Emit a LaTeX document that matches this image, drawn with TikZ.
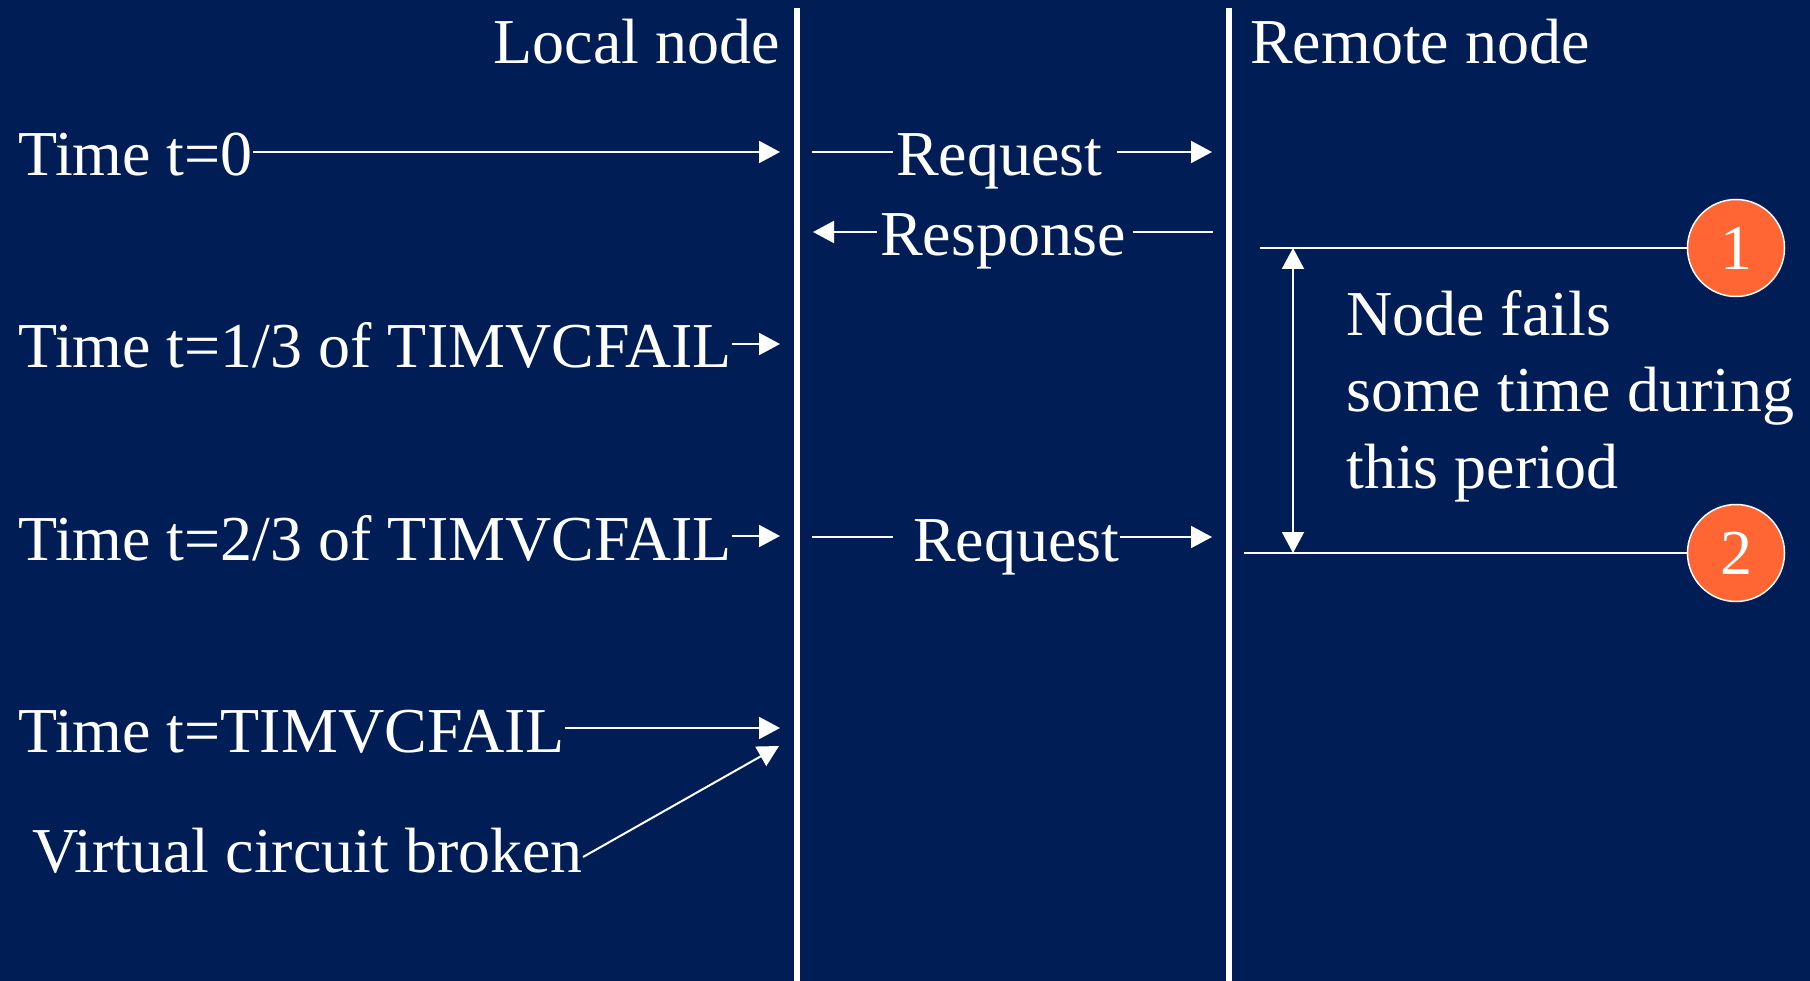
\documentclass[tikz,border=0pt]{standalone}
\usepackage{fontspec}
\setmainfont{Liberation Serif}
\usetikzlibrary{arrows.meta}
\definecolor{navy}{RGB}{1,29,86}
\definecolor{alertorange}{RGB}{255,102,51}
\begin{document}
\begin{tikzpicture}[x=1pt,y=-1pt,
  bigfont/.style={font=\fontsize{64}{76}\selectfont},
  txt/.style={bigfont, inner sep=0pt, text=white, text height=48pt, text depth=0pt},
  wire/.style={draw=white, line width=2pt},
  tip/.tip={Triangle[length=21pt,width=22pt]},
  arr/.style={wire, -tip},
  lane/.style={draw=white, line width=5.5pt},
  marker/.style={circle, fill=alertorange, draw=white, line width=1.5pt,
    minimum size=97pt, inner sep=0pt, text=white, bigfont}]

% background and page frame
\fill[navy] (0,0) rectangle (1810,981);
\useasboundingbox (0,0) rectangle (1810,981);

% the two node lanes
\coordinate (ltop) at (797,8);  \coordinate (lbot) at (797,981);
\coordinate (rtop) at (1229,8); \coordinate (rbot) at (1229,981);
\draw[lane] (ltop) -- (lbot);
\draw[lane] (rtop) -- (rbot);

% lane headings
\node[txt, anchor=base east] (local)  at (780,64)  {Local node};
\node[txt, anchor=base west] (remote) at (1250,64) {Remote node};

% timer events at the local node
\node[txt, anchor=base west] (t0) at (18,176) {Time t=0};
\node[txt, anchor=base west] (t1) at (18,368) {Time t=1/3 of TIMVCFAIL};
\node[txt, anchor=base west] (t2) at (18,560) {Time t=2/3 of TIMVCFAIL};
\node[txt, anchor=base west] (t3) at (18,752) {Time t=TIMVCFAIL};
\node[txt, anchor=base west] (vc) at (32,872) {Virtual circuit broken};

\coordinate (a0) at (780,152);
\coordinate (a1) at (780,344);
\coordinate (a2) at (780,536);
\coordinate (a3) at (780,728);
\coordinate (a4) at (779,746);

\draw[arr] (t0.east) -- (a0);
\draw[arr] (t1.east) -- (a1);
\draw[arr] (t2.east) -- (a2);
\draw[arr] (t3.east) -- (a3);
\draw[arr] ([yshift=15pt]vc.base east) -- (a4);

% messages between the nodes
\node[txt, anchor=base west] (rq1) at (896,176) {Request};
\node[txt, anchor=base west] (rsp) at (880,256) {Response};
\node[txt, anchor=base west] (rq2) at (913,561) {Request};

\coordinate (m0) at (812,152);  \coordinate (r0) at (1212,152);
\coordinate (m1) at (813,232);  \coordinate (r1) at (1213,232);
\coordinate (m2) at (812,537);  \coordinate (r2) at (1212,537);

\draw[wire] (m0) -- ([xshift=-3pt]rq1.west);
\draw[arr] ([xshift=14pt]rq1.east) -- (r0);

\draw[arr] ([xshift=-3pt]rsp.west) -- (m1);
\draw[wire] ([xshift=7pt]rsp.east) -- (r1);

\draw[wire] (m2) -- ([xshift=-20pt]rq2.west);
\draw[arr] (rq2.east) -- (r2);

% failure window at the remote node
\node[marker] (c1) at (1736,248) {1};
\node[marker] (c2) at (1736,553) {2};
\coordinate (f1) at (1260,248);
\coordinate (f2) at (1244,553);
\draw[wire] (f1) -- (c1);
\draw[wire] (f2) -- (c2);

\coordinate (p1) at (1293,248);
\coordinate (p2) at (1293,553);
\draw[wire, tip-tip] (p1) -- (p2);

\node[txt, anchor=base west] (fail1) at (1346,336) {Node fails};
\node[txt, anchor=base west] (fail2) at (1346,412) {some time during};
\node[txt, anchor=base west] (fail3) at (1346,488) {this period};
\end{tikzpicture}
\end{document}
